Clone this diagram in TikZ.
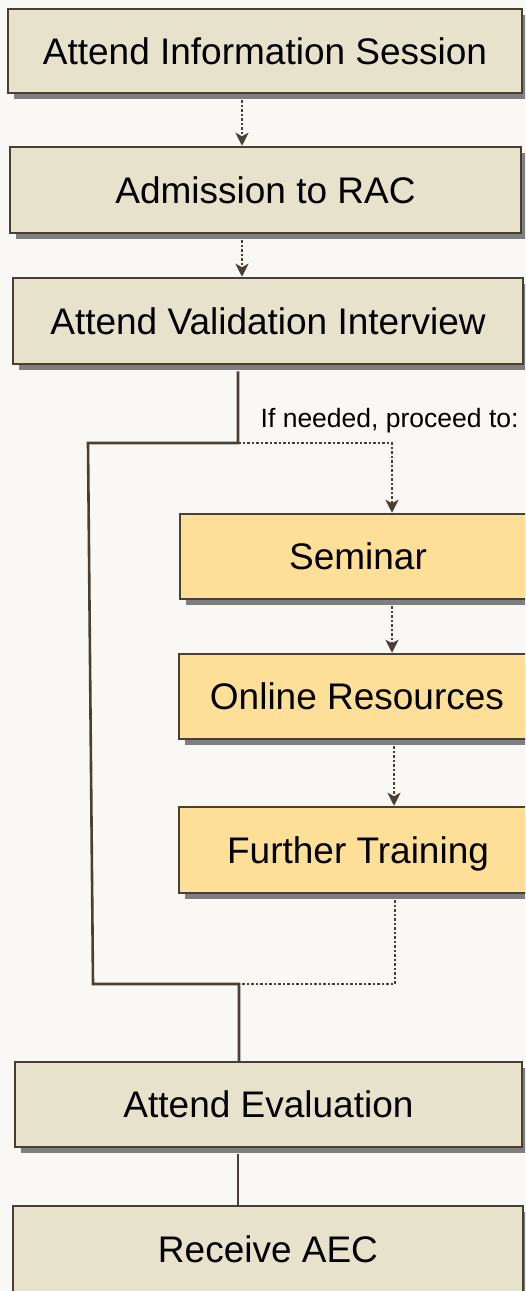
\documentclass[tikz,border=0pt]{standalone}
\usepackage{fontspec}
\setmainfont{Liberation Sans}
\usetikzlibrary{arrows.meta,shadows}
\definecolor{bg}{HTML}{F9F8F4}
\definecolor{boxfill}{HTML}{E7E2CC}
\definecolor{yel}{HTML}{FEDF98}
\definecolor{edge}{HTML}{4A3F33}
\definecolor{shadowgray}{HTML}{7F7F7F}
\begin{document}
\begin{tikzpicture}[x=1pt,y=-1pt,
  stepbox/.style={rectangle, draw=edge, line width=2.5pt, fill=boxfill, inner sep=0pt,
    text height=26.5pt, text depth=0pt, font=\fontsize{37}{44}\selectfont,
    drop shadow={shadow xshift=5.5pt, shadow yshift=-5.5pt, fill=shadowgray, opacity=1}},
  optbox/.style={stepbox, fill=yel},
  flow/.style={draw=edge, line width=2.6pt},
  dotflow/.style={draw=edge, line width=2.6pt, dash pattern=on 2.5pt off 2pt},
  tip/.style={-{Stealth[length=13pt,width=13pt,inset=3.5pt]}},
  notelabel/.style={anchor=base west, inner sep=0pt, font=\fontsize{26.5}{30}\selectfont}
]
\clip (0,0) rectangle (525,1291);
\fill[bg] (0,0) rectangle (525,1291);

% nodes
\node[stepbox, minimum width=514pt, minimum height=84pt] (info) at (265,51) {Attend Information Session};
\node[stepbox, minimum width=511pt, minimum height=86pt] (rac) at (265.5,190) {Admission to RAC};
\node[stepbox, minimum width=510pt, minimum height=86pt] (val) at (268,321) {Attend Validation Interview};
\node[optbox, minimum width=356pt, minimum height=85pt] (sem) at (358,556.5) {Seminar};
\node[optbox, minimum width=356pt, minimum height=85pt] (onl) at (357,696.5) {Online Resources};
\node[optbox, minimum width=358pt, minimum height=86pt] (fur) at (358,850) {Further Training};
\node[stepbox, minimum width=507pt, minimum height=85pt] (eval) at (268.5,1104.5) {Attend Evaluation};
\node[stepbox, minimum width=510pt, minimum height=86pt] (aec) at (268,1249) {Receive AEC};
\node[notelabel] (note) at (260.5,427) {If needed, proceed to:};

% routing coordinates
\coordinate (axA) at (242,0);
\coordinate (axB) at (238,0);
\coordinate (axC) at (392,0);
\coordinate (axD) at (394,0);
\coordinate (axE) at (395,0);
\coordinate (split) at (238,443);
\coordinate (lefttop) at (88,443);
\coordinate (leftbot) at (93,984);
\coordinate (merge) at (239,984);
\coordinate (optin) at (392,443);
\coordinate (optout) at (395,984);

% connectors
\draw[dotflow, tip, shorten <=6pt] (info.south -| axA) -- (rac.north -| axA);
\draw[dotflow, tip, shorten <=6pt] (rac.south -| axA) -- (val.north -| axA);
\draw[flow, shorten <=6pt] (val.south -| axB) -- (split) -- (lefttop) -- (leftbot) -- (merge) -- (eval.north -| merge);
\draw[dotflow, tip] (split) -- (optin) -- (sem.north -| optin);
\draw[dotflow, tip, shorten <=6pt] (sem.south -| axC) -- (onl.north -| axC);
\draw[dotflow, tip, shorten <=6pt] (onl.south -| axD) -- (fur.north -| axD);
\draw[dotflow, shorten <=6pt] (fur.south -| axE) -- (optout) -- (merge);
\draw[flow, shorten <=6pt] (eval.south -| axB) -- (aec.north -| axB);
\end{tikzpicture}
\end{document}
